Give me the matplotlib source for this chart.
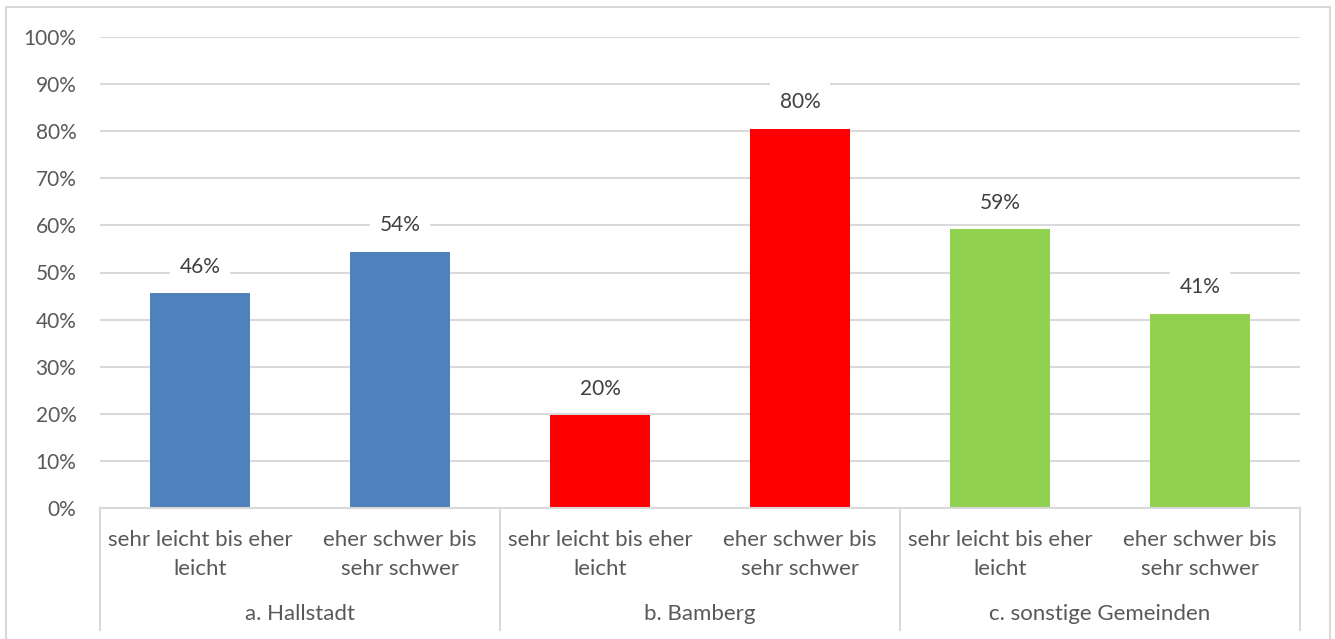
import matplotlib.pyplot as plt
import matplotlib.transforms as mtransforms
from matplotlib.lines import Line2D

# Survey answers per municipality (share of respondents)
groups = ["a. Hallstadt", "b. Bamberg", "c. sonstige Gemeinden"]
answers = ["sehr leicht bis eher\nleicht", "eher schwer bis\nsehr schwer"]
shares = [0.456, 0.544, 0.197, 0.805, 0.592, 0.412]
bar_colors = ["#4F81BD", "#4F81BD", "#FF0000", "#FF0000", "#92D050", "#92D050"]
y_ticks = [0, 0.1, 0.2, 0.3, 0.4, 0.5, 0.6, 0.7, 0.8, 0.9, 1.0]

plt.rcParams['font.family'] = ['Lato', 'DejaVu Sans']

fig = plt.figure(figsize=(13.35, 6.39), dpi=100)
ax = fig.add_axes([100 / 1335, (639 - 508) / 639, 1200 / 1335, 471 / 639])

x = list(range(len(shares)))
ax.bar(x, shares, width=0.5, color=bar_colors, zorder=2)

# value labels above the bars, on white boxes that cut the grid lines
for xi, v in zip(x, shares):
    ax.annotate(f"{round(v * 100):.0f}%", (xi, v), xytext=(0, 12),
                textcoords="offset points", ha="center", va="bottom",
                fontsize=15, color="#404040", zorder=3,
                bbox=dict(boxstyle="square,pad=0.45", fc="white", ec="none"))

ax.set_xlim(-0.5, len(shares) - 0.5)
ax.set_ylim(0, 1)
ax.set_yticks(y_ticks)
ax.set_yticklabels([f"{t * 100:.0f}%" for t in y_ticks])
ax.tick_params(axis="y", length=0, pad=17, labelsize=15, labelcolor="#595959")
ax.grid(axis="y", color="#D9D9D9", linewidth=1.5, zorder=0)
ax.set_axisbelow(True)

for side in ["left", "right", "top"]:
    ax.spines[side].set_visible(False)
ax.spines["bottom"].set_color("#D9D9D9")
ax.spines["bottom"].set_linewidth(1.5)

# two-level category axis
ax.set_xticks(x)
ax.set_xticklabels(answers * len(groups), fontsize=16, color="#595959",
                   linespacing=1.58)
ax.tick_params(axis="x", length=0, pad=15.5)

trans = mtransforms.blended_transform_factory(ax.transData, ax.transAxes)
for b in [-0.5, 1.5, 3.5, 5.5]:
    ax.plot([b, b], [0, -122 / 471], transform=trans, color="#D9D9D9",
            linewidth=1.5, clip_on=False)
for i, g in enumerate(groups):
    ax.text(2 * i + 0.5, -106 / 471, g, transform=trans, ha="center",
            va="center", fontsize=16, color="#595959")

# outer chart border
for xs, ys in [([6, 6], [0, 632]), ([6, 1330], [632, 632]), ([1330, 1330], [0, 632])]:
    fig.add_artist(Line2D([v / 1335 for v in xs], [v / 639 for v in ys],
                          color="#D9D9D9", linewidth=1.5))

fig.savefig("out.png", dpi=100)
